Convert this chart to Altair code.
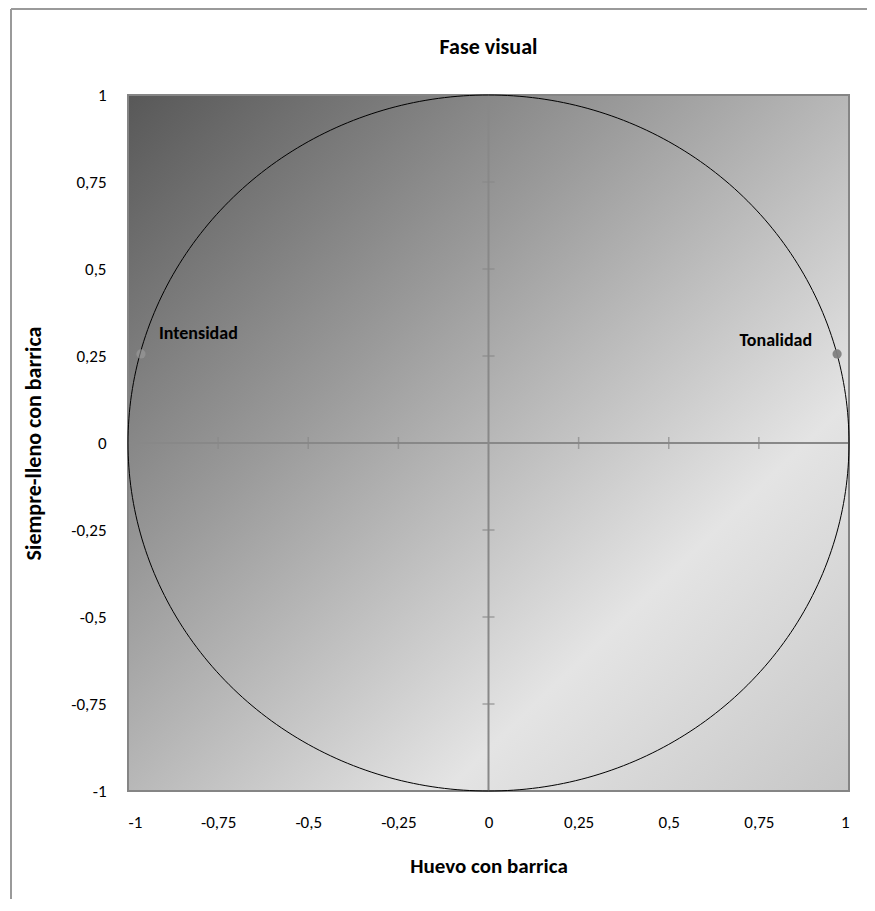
import altair as alt
import numpy as np
import pandas as pd

# ---- data ----
names = ["Intensidad", "Tonalidad"]
xs = [-0.964, 0.967]
ys = [0.256, 0.256]
point_colors = ["#a0a0a0", "#7f7f7f"]
point_opacity = [0.55, 0.95]
tick_vals = [-1, -0.75, -0.5, -0.25, 0, 0.25, 0.5, 0.75, 1]
cross_ticks = [-0.75, -0.5, -0.25, 0.25, 0.5, 0.75]
chart_title = ["Fase visual"]

FONT = "Carlito, Lato, sans-serif"
W, H = 721, 696

pts = pd.DataFrame({"name": names, "x": xs, "y": ys, "c": point_colors, "op": point_opacity})
ang = np.linspace(0, 2 * np.pi, 361)
circle = pd.DataFrame({"cx": np.cos(ang), "cy": np.sin(ang), "o": np.arange(361)})
ticks_df = pd.DataFrame({"v": cross_ticks, "z": [0] * len(cross_ticks)})
title_df = pd.DataFrame({"t": chart_title})

xs_scale = alt.Scale(domain=[-1, 1], nice=False, zero=False)
ys_scale = alt.Scale(domain=[-1, 1], nice=False, zero=False)
lab = "replace(toString(datum.value), '.', ',')"

x_axis = alt.Axis(values=tick_vals, labelExpr=lab, grid=False, domain=False, ticks=False,
                  tickSize=0, labelPadding=23, title="Huevo con barrica", titlePadding=25,
                  labelFontSize=17, titleFontSize=21, titleFontWeight="bold",
                  labelColor="#000", titleColor="#000", labelFont=FONT, titleFont=FONT)
y_axis = alt.Axis(values=tick_vals, labelExpr=lab, grid=False, domain=False, ticks=False,
                  tickSize=0, labelPadding=22, title="Siempre-lleno con barrica", titlePadding=25,
                  labelFontSize=17, titleFontSize=22, titleFontWeight="bold",
                  labelColor="#000", titleColor="#000", labelFont=FONT, titleFont=FONT)

base_df = pd.DataFrame({"a": [0]})

frame_left = alt.Chart(base_df).mark_rule(color="#9a9a9a", strokeWidth=2).encode(
    x=alt.value(-117), y=alt.value(-86), y2=alt.value(H + 120))
frame_top = alt.Chart(base_df).mark_rule(color="#9a9a9a", strokeWidth=2).encode(
    y=alt.value(-86), x=alt.value(-117), x2=alt.value(W + 30))

title_text = alt.Chart(title_df).mark_text(
    font=FONT, fontSize=22, fontWeight="bold", color="#000", align="center", baseline="middle").encode(
    x=alt.value(W / 2), y=alt.value(-48), text="t:N")

grad = alt.LinearGradient(
    gradient="linear",
    stops=[alt.GradientStop(color="#585858", offset=0),
           alt.GradientStop(color="#9a9a9a", offset=0.35),
           alt.GradientStop(color="#e4e4e4", offset=0.72),
           alt.GradientStop(color="#c6c6c6", offset=1)],
    x1=0, y1=0, x2=1, y2=1)

bg = alt.Chart(base_df).mark_rect(fill=grad, stroke="#858585", strokeWidth=2).encode(
    x=alt.X("datum_x1:Q", scale=xs_scale, axis=x_axis),
    x2=alt.value(W),
    y=alt.Y("datum_y1:Q", scale=ys_scale, axis=y_axis),
    y2=alt.value(0),
).transform_calculate(datum_x1="-1", datum_y1="-1")

hline = alt.Chart(base_df).mark_rule(color="#888888", strokeWidth=2).encode(
    x=alt.datum(-1, scale=xs_scale), x2=alt.datum(1), y=alt.datum(0, scale=ys_scale))
vline = alt.Chart(base_df).mark_rule(color="#888888", strokeWidth=2).encode(
    y=alt.datum(-1, scale=ys_scale), y2=alt.datum(1), x=alt.datum(0, scale=xs_scale))

xticks = alt.Chart(ticks_df).mark_tick(color="#888888", size=12, thickness=1.5, orient="vertical").encode(
    x=alt.X("v:Q", scale=xs_scale), y=alt.Y("z:Q", scale=ys_scale))
yticks = alt.Chart(ticks_df).mark_tick(color="#888888", size=12, thickness=1.5, orient="horizontal").encode(
    y=alt.Y("v:Q", scale=ys_scale), x=alt.X("z:Q", scale=xs_scale))

circ = alt.Chart(circle).mark_line(color="#000000", strokeWidth=1).encode(
    x=alt.X("cx:Q", scale=xs_scale), y=alt.Y("cy:Q", scale=ys_scale), order="o:Q")

points = alt.Chart(pts).mark_point(filled=True, size=85).encode(
    x=alt.X("x:Q", scale=xs_scale), y=alt.Y("y:Q", scale=ys_scale),
    color=alt.Color("c:N", scale=None),
    opacity=alt.Opacity("op:Q", scale=None))

lab_int = alt.Chart(pts).transform_filter(alt.datum.name == "Intensidad").mark_text(
    font=FONT, fontSize=18, fontWeight="bold", color="#000", align="left", dx=18, dy=-20).encode(
    x=alt.X("x:Q", scale=xs_scale), y=alt.Y("y:Q", scale=ys_scale), text="name:N")
lab_ton = alt.Chart(pts).transform_filter(alt.datum.name == "Tonalidad").mark_text(
    font=FONT, fontSize=18, fontWeight="bold", color="#000", align="right", dx=-25, dy=-13).encode(
    x=alt.X("x:Q", scale=xs_scale), y=alt.Y("y:Q", scale=ys_scale), text="name:N")

chart = alt.layer(frame_left, frame_top, title_text, bg, hline, vline, xticks, yticks, circ, points,
                  lab_int, lab_ton).properties(
    width=W, height=H,
    autosize=alt.AutoSizeParams(type="none"),
    padding={"left": 120, "top": 87, "right": 18, "bottom": 108},
).configure_view(strokeWidth=0).configure(background="#ffffff")

chart.save("out.html", embed_options={"renderer": "svg", "actions": False})
